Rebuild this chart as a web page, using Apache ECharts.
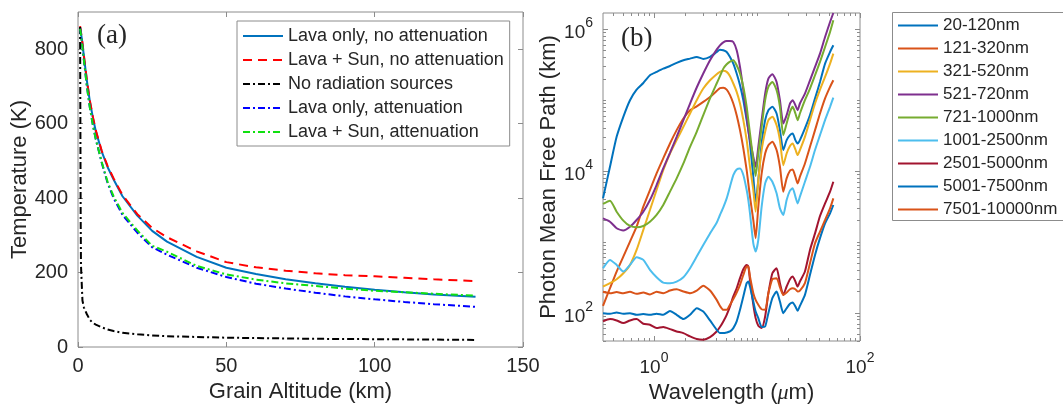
<!DOCTYPE html>
<html>
<head>
<meta charset="utf-8">
<title>Grain temperature and photon mean free path</title>
<script src="https://cdn.jsdelivr.net/npm/echarts@6/dist/echarts.min.js"></script>
<style>
  html, body { margin: 0; padding: 0; background: #fff; }
  #chart { width: 1063px; height: 409px; }
</style>
</head>
<body>
<div id="chart"></div>
<script>
// ---- Panel (a): grain temperature (K) versus grain altitude (km) ----
const altitudeKm      = [0.7, 0.8, 0.9, 1, 1.5, 2, 3, 4, 5, 6, 8, 10, 12, 15, 20, 25, 30, 40, 50, 60, 70, 80, 90, 100, 110, 120, 134];
const tLavaNoAtten    = [860, 855, 850, 845, 815, 780, 715, 660, 617, 580, 525, 483, 450, 405, 353, 312, 283, 242, 213, 196, 182, 171, 162, 154, 147, 141, 135];
const tLavaSunNoAtten = [862, 857, 852, 847, 817, 782, 717, 662, 619, 582, 527, 486, 453, 408, 357, 320, 295, 257, 228, 214, 205, 198, 193, 190, 186, 182, 177];
const tNoSources      = [860, 600, 350, 220, 125, 106, 88, 73, 65, 60, 53, 47, 43, 38, 34, 31, 29, 27, 25, 24, 23, 22, 21.5, 21, 20.5, 20, 19];
const tLavaAtten      = [855, 850, 845, 838, 806, 770, 700, 643, 597, 558, 495, 440, 400, 355, 307, 268, 248, 213, 188, 170, 157, 146, 136, 128, 121, 115, 108];
const tLavaSunAtten   = [855, 850, 845, 838, 806, 770, 700, 643, 597, 558, 497, 443, 405, 360, 313, 272, 256, 218, 195, 181, 171, 164, 157, 151, 147, 143, 138];
const altitudeTicks   = [0, 50, 100, 150];
const temperatureTicks = [0, 200, 400, 600, 800];

// ---- Panel (b): photon mean free path (km) versus wavelength (um), per grain-size bin ----
const wavelengthUm = [0.32, 0.374, 0.434, 0.504, 0.585, 0.678, 0.788, 0.914, 1.06, 1.23, 1.43, 1.66, 1.93, 2.24, 2.6, 3.01, 3.5, 4.06, 4.37, 4.71, 5.08, 5.47, 5.89, 6.35, 6.84, 7.37, 7.94, 8.24, 8.55, 9.21, 9.7, 10.3, 11.1, 12.0, 12.9, 14.1, 15.5, 16.7, 18.0, 19.4, 20.9, 22.2, 23.6, 24.8, 26.1, 29.2, 32.7, 36.6, 40.9, 45.8, 51.2, 55.1];
const mfp20to120 = [4.12e3, 1.15e4, 3.04e4, 5.83e4, 1.0e5, 1.41e5, 1.75e5, 2.25e5, 2.51e5, 2.79e5, 3.04e5, 3.36e5, 3.66e5, 3.86e5, 4.08e5, 3.82e5, 4.08e5, 4.79e5, 5.17e5, 5.06e5, 4.79e5, 4.08e5, 3.28e5, 2.38e5, 1.63e5, 1.0e5, 5.23e4, 3.78e4, 2.45e4, 8.32e3, 3.70e3, 7.47e3, 2.45e4, 5.23e4, 7.23e4, 8.06e4, 6.49e4, 3.78e4, 1.98e4, 2.73e4, 3.21e4, 3.39e4, 2.73e4, 2.45e4, 2.73e4, 3.99e4, 6.15e4, 1.06e5, 1.81e5, 3.28e5, 4.79e5, 5.95e5];
const mfp121to320 = [125, 222, 382, 621, 1.01e3, 1.64e3, 3.15e3, 5.40e3, 9.27e3, 1.51e4, 2.45e4, 3.78e4, 5.52e4, 7.23e4, 8.2e4, 9.47e4, 1.11e5, 1.35e5, 1.48e5, 1.50e5, 1.41e5, 1.18e5, 8.98e4, 6.15e4, 3.78e4, 2.09e4, 1.03e4, 6.70e3, 4.35e3, 2.04e3, 1.13e3, 3.15e3, 9.27e3, 1.77e4, 2.32e4, 2.59e4, 1.98e4, 1.15e4, 5.12e3, 7.88e3, 1.01e4, 1.05e4, 8.32e3, 6.70e3, 8.32e3, 1.28e4, 2.20e4, 3.78e4, 6.49e4, 1.06e5, 1.54e5, 1.91e5];
const mfp321to520 = [235, 262, 298, 362, 474, 771, 1.48e3, 2.82e3, 5.40e3, 1.03e4, 1.77e4, 2.73e4, 4.21e4, 6.49e4, 1.0e5, 1.46e5, 1.91e5, 2.33e5, 2.51e5, 2.60e5, 2.51e5, 2.18e5, 1.72e5, 1.31e5, 8.98e4, 5.23e4, 2.73e4, 1.77e4, 1.15e4, 5.40e3, 2.67e3, 7.47e3, 1.98e4, 3.58e4, 5.23e4, 5.83e4, 4.44e4, 2.73e4, 1.21e4, 1.77e4, 2.25e4, 2.45e4, 2.02e4, 1.68e4, 1.98e4, 3.04e4, 5.23e4, 8.98e4, 1.41e5, 2.13e5, 3.28e5, 4.54e5];
const mfp521to720 = [2.15e3, 1.93e3, 1.56e3, 1.45e3, 1.64e3, 2.04e3, 2.67e3, 3.90e3, 6.35e3, 1.09e4, 1.81e4, 3.04e4, 5.23e4, 8.98e4, 1.51e5, 2.38e5, 3.66e5, 5.17e5, 5.95e5, 6.56e5, 6.85e5, 6.85e5, 6.63e5, 5.06e5, 2.95e5, 1.38e5, 5.83e4, 3.78e4, 2.73e4, 1.59e4, 1.15e4, 2.20e4, 5.23e4, 1.24e5, 2.02e5, 2.33e5, 1.81e5, 1.0e5, 4.69e4, 6.15e4, 8.98e4, 1.0e5, 8.50e4, 7.23e4, 8.98e4, 1.24e5, 1.91e5, 2.95e5, 4.54e5, 7.80e5, 1.27e6, 1.70e6];
const mfp721to1000 = [3.43e3, 3.82e3, 2.67e3, 2.0e3, 1.68e3, 1.61e3, 1.68e3, 1.93e3, 2.40e3, 3.32e3, 5.12e3, 7.88e3, 1.28e4, 2.20e4, 3.58e4, 6.15e4, 1.06e5, 1.72e5, 2.18e5, 2.79e5, 3.21e5, 3.50e5, 3.66e5, 3.11e5, 2.38e5, 1.54e5, 8.06e4, 5.23e4, 3.39e4, 1.43e4, 8.5e3, 1.77e4, 4.21e4, 1.0e5, 1.54e5, 1.81e5, 1.38e5, 8.06e4, 3.21e4, 4.69e4, 6.85e4, 8.06e4, 6.49e4, 5.23e4, 6.49e4, 1.0e5, 1.46e5, 2.25e5, 3.47e5, 5.64e5, 9.17e5, 1.34e6];
const mfp1001to2500 = [426, 558, 474, 382, 474, 608, 558, 403, 318, 267, 262, 276, 318, 426, 621, 907, 1.32e3, 1.87e3, 2.40e3, 3.08e3, 4.12e3, 6.02e3, 8.78e3, 1.05e4, 1.09e4, 8.78e3, 5.40e3, 3.90e3, 2.53e3, 957, 731, 1.07e3, 3.15e3, 6.70e3, 8.32e3, 7.07e3, 4.85e3, 2.98e3, 2.40e3, 3.90e3, 5.29e3, 5.70e3, 4.35e3, 3.50e3, 4.35e3, 7.07e3, 1.15e4, 1.98e4, 3.21e4, 5.23e4, 8.06e4, 1.09e5];
const mfp2501to5000 = [75.5, 81.5, 78, 71.5, 78, 81.5, 70, 67.7, 60.8, 63, 58.9, 54.6, 51.7, 46.4, 42.6, 41.7, 45.4, 54.6, 62.9, 75.5, 93.7, 123, 170, 222, 308, 412, 474, 449, 291, 130, 84.1, 65.6, 60.8, 88.8, 189, 362, 426, 262, 179, 235, 298, 325, 276, 235, 276, 382, 771, 1.32e3, 2.32e3, 3.50e3, 5.12e3, 7.07e3];
const mfp5001to7500 = [98.9, 97, 101, 97, 98.9, 93.7, 95.8, 93.7, 97, 93.7, 106, 93.7, 81.5, 93.7, 116, 104, 78, 57.6, 51.7, 51.7, 52.8, 54.6, 60.8, 75.5, 110, 170, 262, 276, 235, 144, 104, 84.1, 62.9, 64.2, 98.9, 161, 200, 144, 98.9, 116, 134, 140, 123, 107, 125, 179, 343, 656, 1.13e3, 1.83e3, 2.53e3, 3.32e3];
const mfp7501to10000 = [198, 189, 196, 189, 198, 185, 193, 181, 198, 189, 206, 215, 200, 189, 206, 240, 206, 152, 125, 110, 110, 130, 156, 193, 248, 343, 449, 449, 325, 189, 152, 130, 112, 110, 189, 298, 308, 230, 179, 193, 215, 222, 215, 200, 206, 262, 500, 957, 1.40e3, 2.04e3, 2.98e3, 4.12e3];
const wavelengthLabelTicks = [1, 100];
const mfpLabelTicks = [1e2, 1e4, 1e6];

// ---- styling ----
const frameColor = '#8c8c8c';
const ink = '#262626';
const sans = '"Liberation Sans", Arial, Helvetica, sans-serif';
const serif = '"Liberation Serif", "Times New Roman", serif';
const dashDot = [7, 3, 2, 3];

const pairs = (xs, ys) => xs.map((x, i) => [x, ys[i]]);

// minor log ticks at 2..9 of each decade
function minorLogTicks(fromExp, toExp, extra) {
  const out = [];
  for (let e = fromExp; e <= toExp; e++) {
    for (let m = 2; m <= 9; m++) out.push(+(m * Math.pow(10, e)).toPrecision(3));
  }
  return out.concat(extra || []);
}

// "10" with a raised exponent
const powLabel = v => '{b|10}{e|' + Math.round(Math.log10(v)) + '}';
const powRich = {
  b: { fontSize: 19, lineHeight: 26, verticalAlign: 'bottom', color: ink, fontFamily: sans },
  e: { fontSize: 14, lineHeight: 14, verticalAlign: 'top', color: ink, fontFamily: sans }
};

// an axis that only contributes inward tick marks (frame mirror or minor ticks)
function tickOnlyAxis(base, position, ticks, length) {
  return Object.assign({}, base, {
    position: position,
    axisLine: { show: false, onZero: false },
    axisLabel: { show: false },
    splitLine: { show: false },
    axisTick: { show: true, inside: true, length: length, customValues: ticks, lineStyle: { color: frameColor, width: 1 } }
  });
}

const baseA_x = { type: 'value', gridIndex: 0, min: 0, max: 150 };
const baseA_y = { type: 'value', gridIndex: 0, min: 0, max: 900 };
const baseB_x = { type: 'log', logBase: 10, gridIndex: 1, min: 0.32, max: 100 };
const baseB_y = { type: 'log', logBase: 10, gridIndex: 1, min: 40, max: 1.7e6 };

const xMinorB = minorLogTicks(-1, 1, [10]);
const yMinorB = minorLogTicks(1, 6, [1e3, 1e5]);

const xAxes = [
  Object.assign({}, baseA_x, {
    position: 'bottom',
    name: 'Grain Altitude (km)', nameLocation: 'middle', nameGap: 34,
    nameTextStyle: { fontSize: 22, color: ink, fontFamily: sans },
    axisLine: { show: false, onZero: false },
    splitLine: { show: false },
    axisTick: { show: true, inside: true, length: 5, customValues: altitudeTicks, lineStyle: { color: frameColor } },
    axisLabel: { customValues: altitudeTicks, fontSize: 20, color: ink, fontFamily: sans, margin: 9 }
  }),
  tickOnlyAxis(baseA_x, 'top', altitudeTicks, 5),
  Object.assign({}, baseB_x, {
    position: 'bottom',
    name: 'Wavelength ({i|\u03bc}m)', nameLocation: 'middle', nameGap: 41,
    nameTextStyle: { fontSize: 22, color: ink, fontFamily: sans,
      rich: { i: { fontSize: 22, fontStyle: 'italic', color: ink, fontFamily: serif } } },
    axisLine: { show: false, onZero: false },
    splitLine: { show: false },
    axisTick: { show: true, inside: true, length: 5, customValues: wavelengthLabelTicks, lineStyle: { color: frameColor } },
    axisLabel: { customValues: wavelengthLabelTicks, formatter: powLabel, rich: powRich, margin: 10 }
  }),
  tickOnlyAxis(baseB_x, 'bottom', xMinorB, 3),
  tickOnlyAxis(baseB_x, 'top', wavelengthLabelTicks, 5),
  tickOnlyAxis(baseB_x, 'top', xMinorB, 3)
];

const yAxes = [
  Object.assign({}, baseA_y, {
    position: 'left',
    name: 'Temperature (K)', nameLocation: 'middle', nameGap: 47,
    nameTextStyle: { fontSize: 22, color: ink, fontFamily: sans },
    axisLine: { show: false, onZero: false },
    splitLine: { show: false },
    axisTick: { show: true, inside: true, length: 5, customValues: temperatureTicks, lineStyle: { color: frameColor } },
    axisLabel: { customValues: temperatureTicks, fontSize: 20, color: ink, fontFamily: sans, margin: 10 }
  }),
  tickOnlyAxis(baseA_y, 'right', temperatureTicks, 5),
  Object.assign({}, baseB_y, {
    position: 'left',
    name: 'Photon Mean Free Path (km)', nameLocation: 'middle', nameGap: 42,
    nameTextStyle: { fontSize: 22, color: ink, fontFamily: sans },
    axisLine: { show: false, onZero: false },
    splitLine: { show: false },
    axisTick: { show: true, inside: true, length: 5, customValues: mfpLabelTicks, lineStyle: { color: frameColor } },
    axisLabel: { customValues: mfpLabelTicks, formatter: powLabel, rich: powRich, margin: 10 }
  }),
  tickOnlyAxis(baseB_y, 'left', yMinorB, 3),
  tickOnlyAxis(baseB_y, 'right', mfpLabelTicks, 5),
  tickOnlyAxis(baseB_y, 'right', yMinorB, 3)
];

function tempLine(name, values, color, dash) {
  return {
    type: 'line', name: name, xAxisIndex: 0, yAxisIndex: 0,
    data: pairs(altitudeKm, values), symbol: 'none', color: color,
    lineStyle: { color: color, width: 2, type: dash || 'solid' },
    emphasis: { disabled: true }, silent: true
  };
}

function mfpLine(name, values, color) {
  return {
    type: 'line', name: name, xAxisIndex: 2, yAxisIndex: 2,
    data: pairs(wavelengthUm, values), symbol: 'none', color: color, smooth: 0.2,
    lineStyle: { color: color, width: 2 },
    emphasis: { disabled: true }, silent: true
  };
}

const tempSeries = [
  tempLine('Lava only, no attenuation', tLavaNoAtten, '#0072BD'),
  tempLine('Lava + Sun, no attenuation', tLavaSunNoAtten, '#FF0000', [9, 6]),
  tempLine('No radiation sources', tNoSources, '#000000', dashDot),
  tempLine('Lava only, attenuation', tLavaAtten, '#0000FF', dashDot),
  tempLine('Lava + Sun, attenuation', tLavaSunAtten, '#10E010', dashDot)
];

const mfpSeries = [
  mfpLine('20-120nm', mfp20to120, '#0072BD'),
  mfpLine('121-320nm', mfp121to320, '#D95319'),
  mfpLine('321-520nm', mfp321to520, '#EDB120'),
  mfpLine('521-720nm', mfp521to720, '#7E2F8E'),
  mfpLine('721-1000nm', mfp721to1000, '#77AC30'),
  mfpLine('1001-2500nm', mfp1001to2500, '#4DBEEE'),
  mfpLine('2501-5000nm', mfp2501to5000, '#A2142F'),
  mfpLine('5001-7500nm', mfp5001to7500, '#0072BD'),
  mfpLine('7501-10000nm', mfp7501to10000, '#D95319')
];

// legend keys show the plain line sample only (marker hidden)
const legendCommon = {
  orient: 'vertical', itemWidth: 40, itemHeight: 14,
  selectedMode: false,
  itemStyle: { opacity: 0 }
};

const option = {
  animation: false,
  backgroundColor: '#ffffff',
  grid: [
    { left: 78, top: 12, width: 445, height: 335, show: true, borderColor: frameColor, borderWidth: 1, backgroundColor: 'transparent' },
    { left: 603, top: 13, width: 257, height: 328, show: true, borderColor: frameColor, borderWidth: 1, backgroundColor: 'transparent' }
  ],
  xAxis: xAxes,
  yAxis: yAxes,
  legend: [
    Object.assign({}, legendCommon, {
      data: tempSeries.map(s => s.name),
      left: 237, top: 21, itemGap: 6, padding: [6, 6, 5, 5],
      borderColor: frameColor, borderWidth: 1, backgroundColor: '#ffffff',
      textStyle: { fontSize: 18, color: ink, fontFamily: sans }
    }),
    Object.assign({}, legendCommon, {
      data: mfpSeries.map(s => s.name),
      left: 892, top: 12, itemGap: 6, padding: [5, 4, 2, 5],
      textStyle: { fontSize: 17, color: ink, fontFamily: sans }
    })
  ],
  graphic: [
    // frame of the size-bin legend; it runs on past the right edge of the figure
    { type: 'rect', z: 0, silent: true,
      shape: { x: 892.5, y: 12.5, width: 200, height: 208 },
      style: { fill: '#ffffff', stroke: frameColor, lineWidth: 1 } },
    { type: 'text', left: 97, top: 22, silent: true,
      style: { text: '(a)', fontSize: 27, fontFamily: serif, fill: ink } },
    { type: 'text', left: 621, top: 25, silent: true,
      style: { text: '(b)', fontSize: 27, fontFamily: serif, fill: ink } }
  ],
  series: tempSeries.concat(mfpSeries)
};

const chart = echarts.init(document.getElementById('chart'), null, { renderer: 'canvas' });
chart.setOption(option);
</script>
</body>
</html>
